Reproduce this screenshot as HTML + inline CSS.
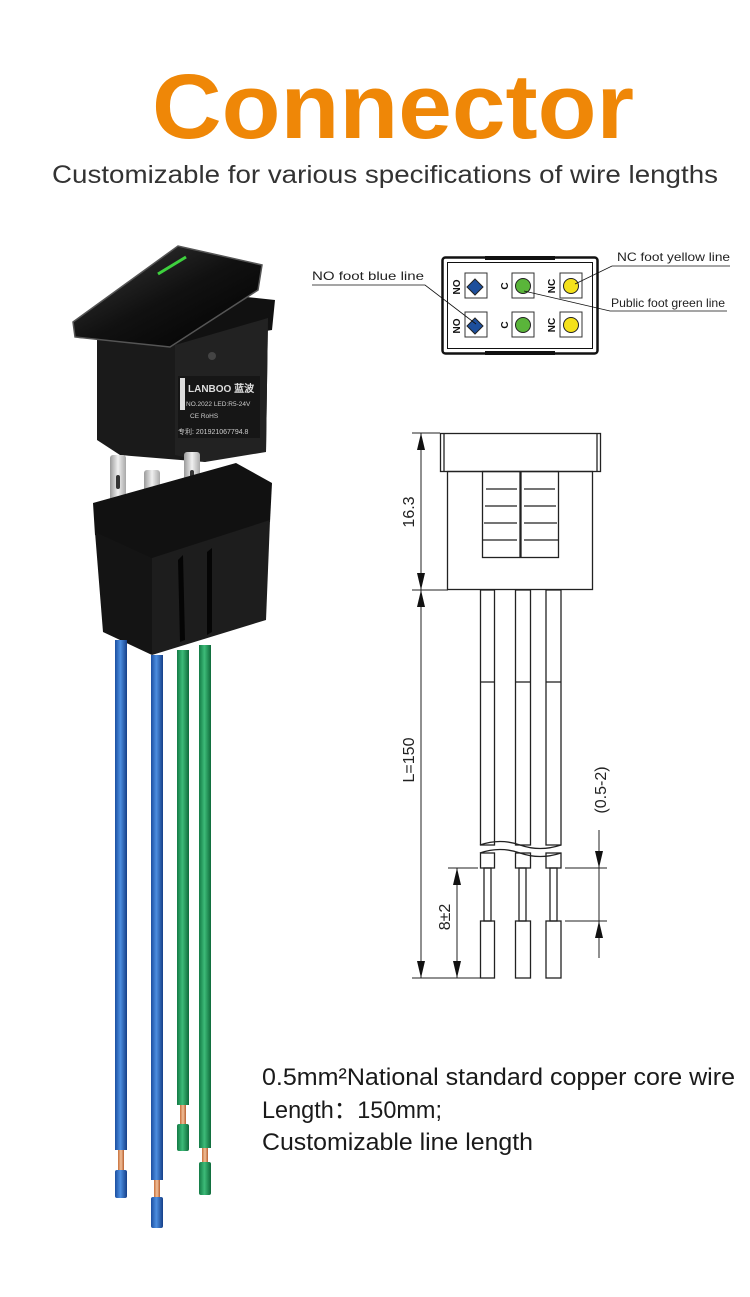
<!DOCTYPE html>
<html><head><meta charset="utf-8"><style>
html,body{margin:0;padding:0;background:#fff;}
svg{display:block;}
</style></head><body>
<svg width="750" height="1297" viewBox="0 0 750 1297" xmlns="http://www.w3.org/2000/svg" font-family="Liberation Sans, sans-serif">
<defs>
<linearGradient id="bl" x1="0" x2="1"><stop offset="0" stop-color="#1b4fa0"/><stop offset="0.45" stop-color="#4c8ee0"/><stop offset="1" stop-color="#153f88"/></linearGradient>
<linearGradient id="gr" x1="0" x2="1"><stop offset="0" stop-color="#137a45"/><stop offset="0.45" stop-color="#3dbb78"/><stop offset="1" stop-color="#0f6a3a"/></linearGradient>
<linearGradient id="cu" x1="0" x2="1"><stop offset="0" stop-color="#c8703a"/><stop offset="0.5" stop-color="#f2c09a"/><stop offset="1" stop-color="#b8602f"/></linearGradient>
<linearGradient id="pin" x1="0" x2="1"><stop offset="0" stop-color="#9a9a9a"/><stop offset="0.5" stop-color="#f0f0f0"/><stop offset="1" stop-color="#a8a8a8"/></linearGradient>
<linearGradient id="cap" x1="0" y1="0" x2="1" y2="1"><stop offset="0" stop-color="#3a3a3a"/><stop offset="0.5" stop-color="#111"/><stop offset="1" stop-color="#000"/></linearGradient>
</defs>

<!-- Title -->
<text x="393" y="138" text-anchor="middle" font-size="92" font-weight="bold" fill="#ef8707" textLength="482" lengthAdjust="spacingAndGlyphs">Connector</text>
<text x="52" y="183" font-size="25" fill="#333" textLength="666" lengthAdjust="spacingAndGlyphs">Customizable for various specifications of wire lengths</text>

<!-- ===== Photo: switch ===== -->
<!-- frame behind rocker -->
<polygon points="75,320 180,290 275,300 272,330 180,345 78,338" fill="#111"/>
<!-- body -->
<polygon points="97,335 180,345 268,318 266,452 230,450 205,462 120,455 97,440" fill="#1a1a1a"/>
<polygon points="175,345 268,318 266,452 205,462 175,455" fill="#222"/>
<rect x="178" y="376" width="82" height="62" fill="#161616"/>
<text x="188" y="392" font-size="10" fill="#ddd" font-weight="bold">LANBOO 蓝波</text>
<text x="186" y="406" font-size="6.5" fill="#ccc">NO.2022  LED:R5-24V</text>
<text x="190" y="418" font-size="6.5" fill="#ccc">CE RoHS</text>
<text x="178" y="434" font-size="7" fill="#ccc" font-family="Liberation Sans, Noto Sans CJK SC, sans-serif">专利: 201921067794.8</text>
<rect x="180" y="378" width="5" height="32" fill="#ddd"/>
<circle cx="212" cy="356" r="4" fill="#444"/>
<!-- rocker cap -->
<polygon points="73,322 178,246 262,265 258,290 170,347 75,337" fill="url(#cap)" stroke="#555" stroke-width="1.5"/>
<line x1="158" y1="274" x2="186" y2="257" stroke="#3ed13e" stroke-width="3"/>
<!-- pins -->
<rect x="110" y="455" width="16" height="55" rx="3" fill="url(#pin)"/>
<rect x="144" y="470" width="16" height="52" rx="3" fill="url(#pin)"/>
<rect x="184" y="452" width="16" height="50" rx="3" fill="url(#pin)"/>
<rect x="116" y="475" width="4" height="14" rx="2" fill="#333"/>
<rect x="150" y="490" width="4" height="14" rx="2" fill="#333"/>
<rect x="190" y="470" width="4" height="14" rx="2" fill="#333"/>
<!-- housing -->
<polygon points="93,503 236,463 272,483 270,522 152,560 95,535" fill="#111"/>
<polygon points="95,532 152,558 152,655 103,632" fill="#141414"/>
<polygon points="152,558 270,520 266,620 152,655" fill="#1d1d1d"/>
<polygon points="178,560 183,555 185,640 180,642" fill="#050505"/>
<polygon points="207,552 212,548 212,632 207,635" fill="#050505"/>

<!-- wires -->
<rect x="115" y="640" width="12" height="510" fill="url(#bl)"/>
<rect x="118" y="1150" width="6" height="20" fill="url(#cu)"/>
<rect x="115" y="1170" width="12" height="28" rx="2" fill="url(#bl)"/>
<rect x="151" y="655" width="12" height="525" fill="url(#bl)"/>
<rect x="154" y="1180" width="6" height="17" fill="url(#cu)"/>
<rect x="151" y="1197" width="12" height="31" rx="2" fill="url(#bl)"/>
<rect x="177" y="650" width="12" height="455" fill="url(#gr)"/>
<rect x="180" y="1105" width="6" height="20" fill="url(#cu)"/>
<rect x="177" y="1124" width="12" height="27" rx="2" fill="url(#gr)"/>
<rect x="199" y="645" width="12" height="503" fill="url(#gr)"/>
<rect x="202" y="1148" width="6" height="15" fill="url(#cu)"/>
<rect x="199" y="1162" width="12" height="33" rx="2" fill="url(#gr)"/>

<!-- ===== Top pin diagram ===== -->
<g stroke="#111" fill="none">
<rect x="442.5" y="257.5" width="155" height="96" rx="3" stroke-width="2.5"/>
<rect x="447.5" y="262.5" width="145" height="86" stroke-width="1"/>
<rect x="485" y="256" width="70" height="4" fill="#111" stroke="none"/>
<rect x="485" y="351" width="70" height="4" fill="#111" stroke="none"/>
</g>
<g stroke="#333" stroke-width="1" fill="#fff">
<rect x="465" y="273" width="22" height="25"/><rect x="465" y="312" width="22" height="25"/>
<rect x="512" y="273" width="22" height="25"/><rect x="512" y="312" width="22" height="25"/>
<rect x="560" y="273" width="22" height="25"/><rect x="560" y="312" width="22" height="25"/>
</g>
<g stroke="#222" stroke-width="1">
<polygon points="475,279 483,287 475,295 467,287" fill="#1d4f9c"/>
<polygon points="475,318 483,326 475,334 467,326" fill="#1d4f9c"/>
<circle cx="523" cy="286" r="7.5" fill="#5ab53a"/><circle cx="523" cy="325" r="7.5" fill="#5ab53a"/>
<circle cx="571" cy="286" r="7.5" fill="#f4e11b"/><circle cx="571" cy="325" r="7.5" fill="#f4e11b"/>
</g>
<g font-size="10" font-weight="bold" fill="#111">
<text transform="translate(460,287) rotate(-90)" text-anchor="middle">NO</text>
<text transform="translate(460,326) rotate(-90)" text-anchor="middle">NO</text>
<text transform="translate(508,286) rotate(-90)" text-anchor="middle">C</text>
<text transform="translate(508,325) rotate(-90)" text-anchor="middle">C</text>
<text transform="translate(555,286) rotate(-90)" text-anchor="middle">NC</text>
<text transform="translate(555,325) rotate(-90)" text-anchor="middle">NC</text>
</g>
<g stroke="#111" stroke-width="0.8" fill="none">
<polyline points="312,285 425,285 476,324"/>
<polyline points="730,266 612,266 575,284"/>
<polyline points="524,291 610,311 727,311"/>
</g>
<g font-size="12" fill="#222">
<text x="312" y="280" textLength="112" lengthAdjust="spacingAndGlyphs">NO foot blue line</text>
<text x="617" y="261" textLength="113" lengthAdjust="spacingAndGlyphs">NC foot yellow line</text>
<text x="611" y="307" textLength="114" lengthAdjust="spacingAndGlyphs">Public foot green line</text>
</g>

<!-- ===== Side drawing ===== -->
<g stroke="#222" stroke-width="1.3" fill="none">
<rect x="440.5" y="433.5" width="160" height="38"/>
<line x1="444" y1="434" x2="444" y2="471"/><line x1="597" y1="434" x2="597" y2="471"/>
<rect x="447.5" y="471.5" width="145" height="118"/>
<rect x="482.5" y="471.5" width="76" height="86"/>
<line x1="520" y1="472" x2="520" y2="557"/>
<line x1="521" y1="472" x2="521" y2="557"/>
<line x1="486" y1="489" x2="517" y2="489"/><line x1="485" y1="506" x2="517" y2="506"/><line x1="484" y1="523" x2="517" y2="523"/><line x1="483" y1="540" x2="517" y2="540"/>
<line x1="524" y1="489" x2="555" y2="489"/><line x1="524" y1="506" x2="556" y2="506"/><line x1="524" y1="523" x2="557" y2="523"/><line x1="524" y1="540" x2="558" y2="540"/>
<!-- wires -->
<rect x="480.5" y="590" width="14" height="255"/>
<rect x="515.5" y="590" width="15" height="255"/>
<rect x="546" y="590" width="15" height="255"/>
<line x1="481" y1="682" x2="494" y2="682"/><line x1="516" y1="682" x2="530" y2="682"/><line x1="546" y1="682" x2="561" y2="682"/>
<path d="M480,845 Q500,838 520,845 T561,845"/>
<path d="M480,853 Q500,846 520,853 T561,853"/>
<rect x="480.5" y="853" width="14" height="15"/><rect x="515.5" y="853" width="15" height="15"/><rect x="546" y="853" width="15" height="15"/>
<rect x="484" y="868" width="7" height="53"/><rect x="519" y="868" width="7" height="53"/><rect x="550" y="868" width="7" height="53"/>
<rect x="480.5" y="921" width="14" height="57"/><rect x="515.5" y="921" width="15" height="57"/><rect x="546" y="921" width="15" height="57"/>
</g>
<!-- dimensions -->
<g stroke="#222" stroke-width="1" fill="none">
<line x1="412" y1="433" x2="440" y2="433"/>
<line x1="412" y1="590" x2="448" y2="590"/>
<line x1="412" y1="978" x2="481" y2="978"/>
<line x1="421" y1="433" x2="421" y2="978"/>
<line x1="448" y1="868" x2="478" y2="868"/>
<line x1="457" y1="868" x2="457" y2="978"/>
<line x1="565" y1="868" x2="607" y2="868"/>
<line x1="565" y1="921" x2="607" y2="921"/>
<line x1="599" y1="830" x2="599" y2="921"/>
<line x1="599" y1="921" x2="599" y2="958"/>
</g>
<g fill="#111">
<polygon points="421,433 417,450 425,450"/><polygon points="421,590 417,573 425,573"/>
<polygon points="421,590 417,607 425,607"/><polygon points="421,978 417,961 425,961"/>
<polygon points="457,868 453,885 461,885"/><polygon points="457,978 453,961 461,961"/>
<polygon points="599,868 595,851 603,851"/><polygon points="599,921 595,938 603,938"/>
</g>
<g font-size="16" fill="#222">
<text transform="translate(414,512) rotate(-90)" text-anchor="middle">16.3</text>
<text transform="translate(414,760) rotate(-90)" text-anchor="middle">L=150</text>
<text transform="translate(450,917) rotate(-90)" text-anchor="middle">8±2</text>
<text transform="translate(606,790) rotate(-90)" text-anchor="middle">(0.5-2)</text>
</g>

<!-- bottom text -->
<g font-size="24" fill="#1a1a1a">
<text x="262" y="1085" textLength="473" lengthAdjust="spacingAndGlyphs">0.5mm²National standard copper core wire</text>
<text x="262" y="1118" textLength="180" lengthAdjust="spacingAndGlyphs">Length：150mm;</text>
<text x="262" y="1150" textLength="271" lengthAdjust="spacingAndGlyphs">Customizable line length</text>
</g>
</svg>
</body></html>
